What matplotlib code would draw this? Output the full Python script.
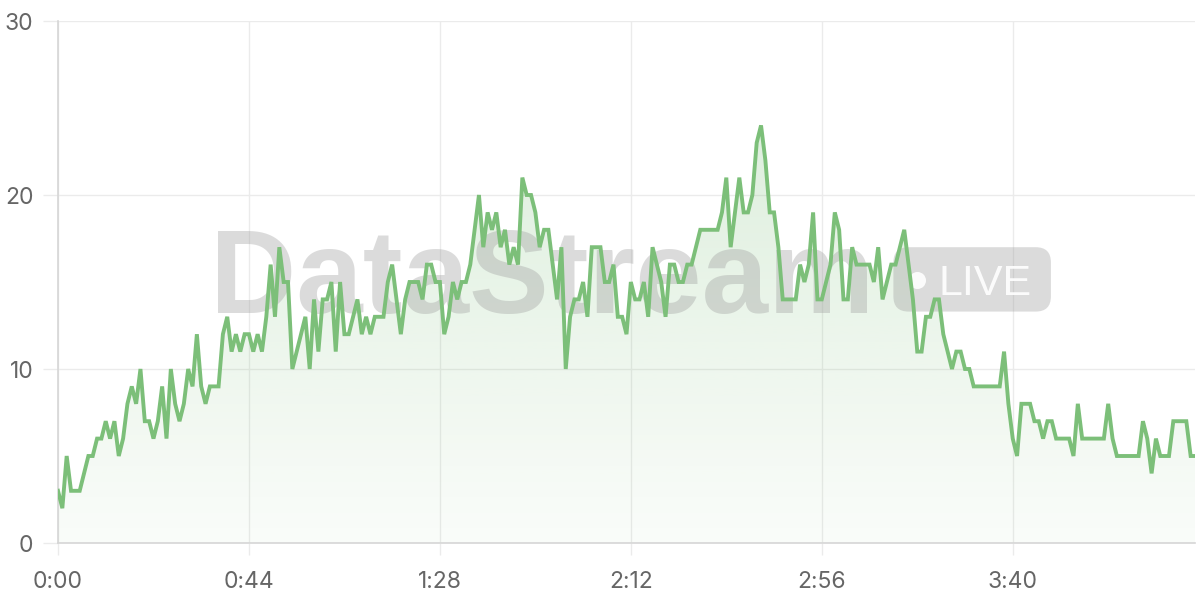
import numpy as np
import matplotlib.pyplot as plt
import matplotlib.colors as mcolors
from matplotlib.patches import FancyBboxPatch
from matplotlib.ticker import FuncFormatter

plt.rcParams['font.family'] = ['Inter', 'DejaVu Sans']

# one reading per second, 0:00 .. 4:22
viewers = [
    3, 2, 5, 3, 3, 3, 4, 5, 5, 6,
    6, 7, 6, 7, 5, 6, 8, 9, 8, 10,
    7, 7, 6, 7, 9, 6, 10, 8, 7, 8,
    10, 9, 12, 9, 8, 9, 9, 9, 12, 13,
    11, 12, 11, 12, 12, 11, 12, 11, 13, 16,
    13, 17, 15, 15, 10, 11, 12, 13, 10, 14,
    11, 14, 14, 15, 11, 15, 12, 12, 13, 14,
    12, 13, 12, 13, 13, 13, 15, 16, 14, 12,
    14, 15, 15, 15, 14, 16, 16, 15, 15, 12,
    13, 15, 14, 15, 15, 16, 18, 20, 17, 19,
    18, 19, 17, 18, 16, 17, 16, 21, 20, 20,
    19, 17, 18, 18, 16, 14, 17, 10, 13, 14,
    14, 15, 13, 17, 17, 17, 15, 15, 16, 13,
    13, 12, 15, 14, 14, 15, 13, 17, 16, 15,
    13, 16, 16, 15, 15, 16, 16, 17, 18, 18,
    18, 18, 18, 19, 21, 17, 19, 21, 19, 19,
    20, 23, 24, 22, 19, 19, 17, 14, 14, 14,
    14, 16, 15, 16, 19, 14, 14, 15, 16, 19,
    18, 14, 14, 17, 16, 16, 16, 16, 15, 17,
    14, 15, 16, 16, 17, 18, 16, 14, 11, 11,
    13, 13, 14, 14, 12, 11, 10, 11, 11, 10,
    10, 9, 9, 9, 9, 9, 9, 9, 11, 8,
    6, 5, 8, 8, 8, 7, 7, 6, 7, 7,
    6, 6, 6, 6, 5, 8, 6, 6, 6, 6,
    6, 6, 8, 6, 5, 5, 5, 5, 5, 5,
    7, 6, 4, 6, 5, 5, 5, 7, 7, 7,
    7, 5, 5,
]
x_ticks = [0, 44, 88, 132, 176, 220]
y_ticks = [0, 10, 20, 30]

line_color = '#7cbf79'
grid_color = '#ebebeb'
label_color = '#666666'

seconds = np.arange(len(viewers))

fig = plt.figure(figsize=(12, 6), dpi=100)
ax = fig.add_axes([58 / 1200, 57 / 600, 1137 / 1200, 522 / 600])

# gradient fill under the line, clipped to the area
area = ax.fill_between(seconds, viewers, 0, color='none', lw=0)
alpha = np.linspace(0.04, 0.25, 256)
rgba = np.zeros((256, 1, 4))
rgba[..., :3] = mcolors.to_rgb(line_color)
rgba[:, 0, 3] = alpha
img = ax.imshow(rgba, extent=[0, seconds[-1], 0, max(viewers)], origin='lower',
                aspect='auto', zorder=1, interpolation='bilinear')
img.set_clip_path(area.get_paths()[0], transform=ax.transData)

# watermark
wm = dict(color='#9a9a9a', alpha=0.35, zorder=2)
ax.text(35, 13.2, 'DataStream', family=['Liberation Sans', 'DejaVu Sans'],
        fontsize=86, fontweight='bold', ha='left', va='baseline', **wm)
badge = FancyBboxPatch((192.5, 13.3), 36.3, 3.7,
                       boxstyle='round,pad=0,rounding_size=3.5',
                       mutation_aspect=0.25, lw=0, facecolor='#9a9a9a',
                       alpha=0.35, zorder=2)
ax.add_patch(badge)
ax.scatter([197.9], [15.1], s=150, color='white', alpha=0.9, lw=0, zorder=2.5)
ax.text(203.0, 14.25, 'LIVE', family=['Liberation Sans', 'DejaVu Sans'],
        fontsize=31, color='white', alpha=0.9, ha='left', va='baseline', zorder=2.5)

ax.plot(seconds, viewers, color=line_color, lw=2.8, solid_joinstyle='miter', zorder=4)

ax.set_xlim(0, seconds[-1])
ax.set_ylim(0, 30)
ax.set_xticks(x_ticks)
ax.set_yticks(y_ticks)
ax.xaxis.set_major_formatter(FuncFormatter(lambda v, p: f'{int(v) // 60}:{int(v) % 60:02d}'))
ax.grid(True, color=grid_color, lw=1)
ax.set_axisbelow(True)

for side in ['top', 'right']:
    ax.spines[side].set_visible(False)
for side in ['left', 'bottom']:
    ax.spines[side].set_color('#d6d6d6')
    ax.spines[side].set_linewidth(1.2)

ax.tick_params(axis='x', length=8.5, width=1, color=grid_color, pad=12,
               labelsize=16.5, labelcolor=label_color)
ax.tick_params(axis='y', length=10.8, width=1, color=grid_color, pad=7,
               labelsize=16.5, labelcolor=label_color)

fig.savefig('out.png', dpi=100)
